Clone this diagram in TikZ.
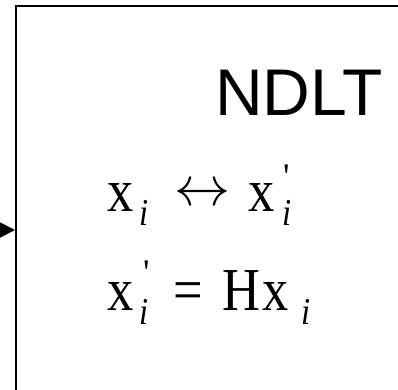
\documentclass[tikz,border=0pt]{standalone}
\usepackage{fontspec}
\setmainfont{Liberation Serif}
\newfontfamily\arialfont{Liberation Sans}
\newfontfamily\eqfont[FakeStretch=0.86]{Liberation Serif}
\newfontfamily\primefont[Ligatures=TeXOff]{Liberation Serif}
\usetikzlibrary{arrows.meta}
\tikzset{
  blockbox/.style={draw, line width=2pt, minimum width=404pt, minimum height=448pt, inner sep=0pt},
  mx/.style={inner sep=0pt, anchor=base west, font=\fontsize{61}{61}\eqfont},
  sub/.style={inner sep=0pt, anchor=base west, font=\fontsize{38}{38}\eqfont\itshape},
  pr/.style={inner sep=0pt, anchor=base west, font=\fontsize{36}{36}\primefont},
  arr/.style={inner sep=0pt, anchor=west},
  title/.style={inner sep=0pt, anchor=base west, font=\fontsize{66}{66}\selectfont\arialfont},
  flow/.style={line width=2pt, -{Triangle[length=16pt,width=16pt]}}
}
\begin{document}
\begin{tikzpicture}[x=1pt,y=-1pt]
\useasboundingbox (0,0) rectangle (398,389);
\clip (0,0) rectangle (398,389);
\node[blockbox] (blk) at (218,230) {};
\coordinate (src) at (-30,230);
\draw[flow] (src) -- (blk.west);
\node[title] (t) at (215,115) {NDLT};
% line 1
\node[mx] (a1) at (107,211) {x};
\node[sub] (a2) at (139,225) {i};
\node[arr] (a3) at (174,195) {\scalebox{5.6}{$\leftrightarrow$}};
\node[mx] (a4) at (248,211) {x};
\node[sub] (a5) at (282,225) {i};
\node[pr] (a6) at (283,188) {'};
% line 2
\node[mx] (b1) at (107,310) {x};
\node[sub] (b2) at (139,324) {i};
\node[pr] (b3) at (143,284) {'};
\node[mx] (b4) at (173,310) {=};
\node[mx] (b5) at (222,310) {H};
\node[mx] (b6) at (262,310) {x};
\node[sub] (b7) at (301,324) {i};
\end{tikzpicture}
\end{document}
